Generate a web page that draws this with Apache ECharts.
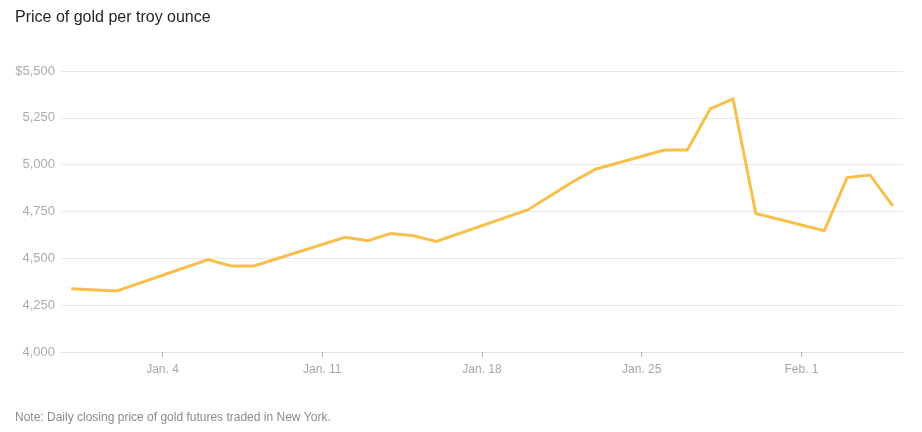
<!DOCTYPE html>
<html>
<head>
<meta charset="utf-8">
<script src="https://cdn.jsdelivr.net/npm/echarts@6/dist/echarts.min.js"></script>
<style>
  html, body { margin: 0; padding: 0; background: #fff; }
  #chart { width: 922px; height: 432px; }
</style>
</head>
<body>
<div id="chart"></div>
<script>
// ---- data ----
var dates = ['2025-12-31','2026-01-02','2026-01-06','2026-01-07','2026-01-08',
             '2026-01-12','2026-01-13','2026-01-14','2026-01-15','2026-01-16',
             '2026-01-20','2026-01-22','2026-01-23','2026-01-26','2026-01-27',
             '2026-01-28','2026-01-29','2026-01-30','2026-02-02','2026-02-03',
             '2026-02-04','2026-02-05'];
var prices = [4337, 4326, 4493, 4459, 4459,
              4612, 4594, 4633, 4620, 4590,
              4758, 4910, 4977, 5078, 5078,
              5298, 5351, 4739, 4647, 4931,
              4945, 4780];
var tickDates = ['2026-01-04','2026-01-11','2026-01-18','2026-01-25','2026-02-01'];
var tickLabels = ['Jan. 4','Jan. 11','Jan. 18','Jan. 25','Feb. 1'];
var yTicks = [4000, 4250, 4500, 4750, 5000, 5250, 5500];

var title = 'Price of gold per troy ounce';
var note = 'Note: Daily closing price of gold futures traded in New York.';

// ---- helpers ----
function dayNum(s) {
  var p = s.split('-');
  return (Date.UTC(+p[0], +p[1] - 1, +p[2]) - Date.UTC(2025, 11, 31)) / 86400000;
}
var seriesData = dates.map(function (d, i) { return [dayNum(d), prices[i]]; });
var tickDays = tickDates.map(dayNum);
var labelMap = {};
tickDays.forEach(function (d, i) { labelMap[d] = tickLabels[i]; });

var FONT = '"Liberation Sans", Arial, Helvetica, sans-serif';
var chart = echarts.init(document.getElementById('chart'), null, { renderer: 'canvas' });
chart.setOption({
  animation: false,
  backgroundColor: '#ffffff',
  title: [{
    text: title, left: 15, top: 10, padding: 0,
    textStyle: { fontFamily: FONT, fontSize: 16, fontWeight: 'normal', color: '#262626' }
  }, {
    text: note, left: 15, top: 412, padding: 0,
    textStyle: { fontFamily: FONT, fontSize: 12, fontWeight: 'normal', color: '#8a8a8a' }
  }],
  grid: { left: 61, right: 19, top: 71, bottom: 80, containLabel: false },
  xAxis: {
    type: 'value',
    min: -0.45, max: 36.45,
    splitLine: { show: false },
    axisLine: { show: true, lineStyle: { color: '#e3e3e3', width: 1 } },
    axisTick: { show: true, customValues: tickDays, length: 5, lineStyle: { color: '#b5b5b5' } },
    axisLabel: {
      customValues: tickDays,
      formatter: function (v) { return labelMap[Math.round(v)] || ''; },
      margin: 12, color: '#a6a6a6', fontFamily: FONT, fontSize: 12
    }
  },
  yAxis: {
    type: 'value',
    min: yTicks[0], max: yTicks[yTicks.length - 1], interval: 250,
    axisLine: { show: false },
    axisTick: { show: false },
    splitLine: { show: true, lineStyle: { color: '#e8e8e8', width: 1 } },
    axisLabel: {
      margin: 6, color: '#ababab', fontFamily: FONT, fontSize: 13,
      formatter: function (v) {
        var s = v.toLocaleString('en-US');
        return v === yTicks[yTicks.length - 1] ? '$' + s : s;
      }
    }
  },
  series: [{
    type: 'line',
    data: seriesData,
    showSymbol: false,
    symbol: 'none',
    lineStyle: { color: '#f8bf4c', width: 3, join: 'miter' },
    itemStyle: { color: '#f8bf4c' }
  }]
});
</script>
</body>
</html>
